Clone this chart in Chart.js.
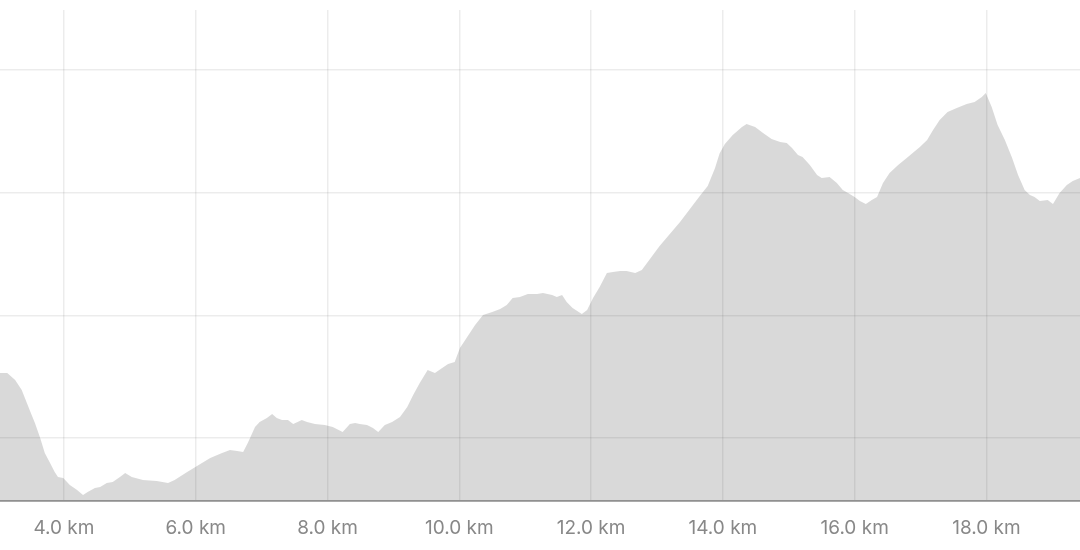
<!DOCTYPE html>
<html>
<head>
<meta charset="utf-8">
<script src="https://cdn.jsdelivr.net/npm/chart.js@4/dist/chart.umd.min.js"></script>
<style>
  html, body { margin: 0; padding: 0; background: #fff; }
  #wrap { width: 1080px; height: 550px; }
</style>
</head>
<body>
<div id="wrap"><canvas id="perfil"></canvas></div>
<script>
// distância (km) e altitude (m)
const distancias = [
  3.03, 3.14, 3.26, 3.36, 3.48, 3.56, 3.64, 3.71, 3.79, 3.86, 3.91, 3.99,
  4.09, 4.20, 4.29, 4.36, 4.47, 4.55, 4.65, 4.74, 4.85, 4.93, 5.03, 5.20,
  5.41, 5.58, 5.68, 5.87, 6.02, 6.22, 6.40, 6.52, 6.63, 6.72, 6.79, 6.90,
  6.97, 7.08, 7.16, 7.23, 7.31, 7.40, 7.48, 7.61, 7.69, 7.81, 7.96, 8.08,
  8.23, 8.34, 8.42, 8.49, 8.60, 8.69, 8.77, 8.87, 8.98, 9.10, 9.21, 9.30,
  9.40, 9.52, 9.63, 9.74, 9.83, 9.93, 10.01, 10.12, 10.24, 10.36, 10.50, 10.62,
  10.72, 10.81, 10.92, 11.04, 11.18, 11.27, 11.41, 11.48, 11.56, 11.63, 11.72, 11.86,
  11.94, 12.03, 12.13, 12.24, 12.33, 12.44, 12.54, 12.67, 12.77, 12.86, 13.04, 13.35,
  13.65, 13.77, 13.88, 13.95, 14.03, 14.15, 14.29, 14.36, 14.49, 14.61, 14.74, 14.87,
  14.97, 15.05, 15.14, 15.21, 15.32, 15.43, 15.50, 15.62, 15.73, 15.82, 15.90, 16.00,
  16.08, 16.17, 16.26, 16.34, 16.43, 16.53, 16.66, 16.79, 16.88, 16.99, 17.10, 17.19,
  17.29, 17.41, 17.55, 17.70, 17.82, 17.93, 17.99, 18.08, 18.17, 18.28, 18.39, 18.48,
  18.58, 18.66, 18.73, 18.81, 18.93, 19.01, 19.11, 19.22, 19.31, 19.42
];
const altitudes = [
  76.5, 76.5, 73.6, 69.6, 61.4, 56.1, 50.0, 43.9, 39.8, 36.1, 34.1, 33.7,
  30.8, 28.8, 26.8, 28.0, 29.6, 30.0, 31.7, 32.1, 34.1, 35.7, 34.1, 32.9,
  32.5, 31.7, 32.9, 36.1, 38.6, 41.8, 43.9, 45.1, 44.7, 44.3, 48.0, 54.5,
  56.5, 58.2, 59.8, 58.2, 57.3, 57.3, 55.7, 57.3, 56.5, 55.7, 55.3, 54.5,
  52.4, 55.7, 56.1, 55.7, 55.3, 54.1, 52.4, 55.3, 56.5, 58.6, 62.6, 67.5,
  72.4, 77.7, 76.5, 78.5, 80.2, 81.0, 86.7, 91.2, 96.1, 100.1, 101.4, 102.6,
  104.2, 107.1, 107.5, 108.7, 108.7, 109.1, 108.3, 107.5, 108.3, 105.4, 103.0, 100.5,
  102.2, 107.1, 111.5, 117.3, 117.7, 118.1, 118.1, 117.3, 118.5, 121.7, 128.3, 138.0,
  148.6, 152.7, 160.0, 166.0, 169.8, 173.5, 176.8, 178.0, 176.8, 174.3, 171.9, 170.7,
  170.2, 168.2, 165.4, 164.5, 161.3, 157.2, 156.0, 156.4, 153.9, 151.1, 149.9, 148.2,
  146.6, 145.4, 147.0, 148.2, 153.9, 158.0, 161.3, 164.1, 166.2, 168.6, 171.5, 175.5,
  179.6, 182.9, 184.5, 186.1, 187.0, 189.0, 190.6, 184.9, 177.6, 171.5, 164.1, 157.2,
  151.1, 149.0, 148.2, 146.6, 147.0, 145.4, 149.9, 153.1, 154.8, 156.0
];
const ticksKm = [4, 6, 8, 10, 12, 14, 16, 18];
const ticksAltitude = [50, 100, 150, 200];

const pontos = distancias.map((d, i) => ({ x: d, y: altitudes[i] }));

const ctx = document.getElementById("perfil").getContext("2d");
new Chart(ctx, {
  type: "line",
  data: {
    datasets: [
      {
        data: pontos,
        borderWidth: 0,
        borderColor: "rgba(0,0,0,0)",
        backgroundColor: "rgba(0,0,0,0.15)",
        pointRadius: 0,
        tension: 0,
        fill: "start"
      }
    ]
  },
  options: {
    responsive: true,
    maintainAspectRatio: false,
    animation: false,
    layout: { padding: { top: 10, left: 0, right: 0, bottom: 0 } },
    plugins: {
      legend: { display: false },
      tooltip: { enabled: false }
    },
    scales: {
      x: {
        type: "linear",
        min: 3.03,
        max: 19.42,
        afterBuildTicks: (s) => { s.ticks = ticksKm.map((v) => ({ value: v })); },
        afterFit: (s) => { s.height = 49; },
        grid: { color: "rgba(0,0,0,0.075)", lineWidth: 1.5, drawTicks: false },
        border: { display: true, color: "#aaaaaa", width: 2 },
        ticks: {
          autoSkip: false,
          maxRotation: 0,
          padding: 16,
          color: "#888888",
          font: { family: "Inter", size: 19 },
          callback: (v) => `${Number(v).toFixed(1)} km`
        }
      },
      y: {
        min: 24.32,
        max: 224.46,
        afterBuildTicks: (s) => { s.ticks = ticksAltitude.map((v) => ({ value: v })); },
        afterFit: (s) => { s.width = 0; },
        grid: { color: "rgba(0,0,0,0.075)", lineWidth: 1.5, drawTicks: false },
        border: { display: false },
        ticks: { display: false }
      }
    }
  }
});
</script>
</body>
</html>
